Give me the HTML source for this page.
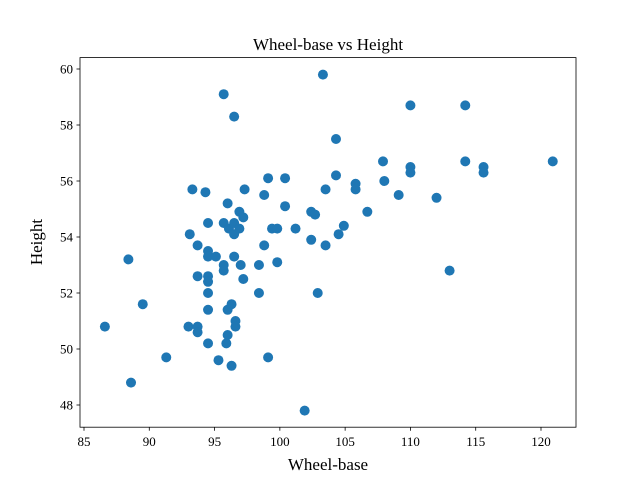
<!DOCTYPE html>
<html><head><meta charset="utf-8"><style>
body{margin:0;background:#fff}
svg text{font-family:"Liberation Serif",serif;fill:#000}
</style></head><body>
<svg id="chart" width="640" height="480" xmlns="http://www.w3.org/2000/svg">
<rect width="640" height="480" fill="#fff"/>
<text x="328" y="50" text-anchor="middle" font-size="17">Wheel-base vs Height</text>
<g id="marks"></g>
<rect x="80" y="57.6" width="496" height="369.6" fill="none" stroke="#000" stroke-width="0.8"/>
<g id="xt"></g>
<g id="yt"></g>
<text x="328" y="470" text-anchor="middle" font-size="17">Wheel-base</text>
<text transform="translate(42,242) rotate(-90)" text-anchor="middle" font-size="17">Height</text>
</svg>
<script>
const wheelBase=[86.6,88.4,88.6,89.5,91.3,93.1,93.3,93.0,93.7,93.7,93.7,93.7,94.3,94.5,94.5,94.5,94.5,94.5,94.5,94.5,94.5,95.1,95.3,95.7,95.7,95.7,95.7,96.1,96.0,96.0,96.0,95.9,96.3,96.3,96.5,96.5,96.5,96.5,96.6,96.6,96.9,96.9,97.0,97.3,97.2,97.2,98.4,98.4,98.8,98.8,99.1,99.1,99.4,99.8,99.8,100.4,100.4,101.2,101.9,102.4,102.7,102.4,102.9,103.3,103.5,103.5,104.3,104.3,104.5,104.9,105.8,105.8,106.7,107.9,108.0,109.1,110.0,110.0,110.0,112.0,113.0,114.2,114.2,115.6,115.6,120.9];
const height=[50.8,53.2,48.8,51.6,49.7,54.1,55.7,50.8,50.8,50.6,53.7,52.6,55.6,54.5,53.5,53.3,52.6,52.4,52.0,51.4,50.2,53.3,49.6,59.1,54.5,53.0,52.8,54.3,55.2,51.4,50.5,50.2,51.6,49.4,58.3,54.5,54.1,53.3,51.0,50.8,54.9,54.3,53.0,55.7,54.7,52.5,53.0,52.0,53.7,55.5,56.1,49.7,54.3,53.1,54.3,56.1,55.1,54.3,47.8,54.9,54.8,53.9,52.0,59.8,55.7,53.7,57.5,56.2,54.1,54.4,55.9,55.7,54.9,56.7,56.0,55.5,58.7,56.5,56.3,55.4,52.8,58.7,56.7,56.5,56.3,56.7];
const xTicks=[85,90,95,100,105,110,115,120];
const yTicks=[48,50,52,54,56,58,60];
const X=v=>84+(v-85)*13.057, Y=v=>405-(v-48)*28;
const NS="http://www.w3.org/2000/svg";
const m=document.getElementById('marks');
wheelBase.forEach((w,i)=>{const c=document.createElementNS(NS,'circle');
c.setAttribute('cx',X(w));c.setAttribute('cy',Y(height[i]));c.setAttribute('r',5);c.setAttribute('fill','#1f77b4');


m.appendChild(c);});
const xt=document.getElementById('xt');
xTicks.forEach(t=>{const l=document.createElementNS(NS,'line');l.setAttribute('x1',X(t));l.setAttribute('x2',X(t));l.setAttribute('y1',427.2);l.setAttribute('y2',430.7);l.setAttribute('stroke','#000');l.setAttribute('stroke-width',0.8);


xt.appendChild(l);
const s=document.createElementNS(NS,'text');s.setAttribute('x',X(t));s.setAttribute('y',446);s.setAttribute('text-anchor','middle');s.setAttribute('font-size','13');s.textContent=t;


xt.appendChild(s);});
const yt=document.getElementById('yt');
yTicks.forEach(t=>{const l=document.createElementNS(NS,'line');l.setAttribute('x1',76.5);l.setAttribute('x2',80);l.setAttribute('y1',Y(t));l.setAttribute('y2',Y(t));l.setAttribute('stroke','#000');l.setAttribute('stroke-width',0.8);


yt.appendChild(l);
const s=document.createElementNS(NS,'text');s.setAttribute('x',73);s.setAttribute('y',Y(t)+4.5);s.setAttribute('text-anchor','end');s.setAttribute('font-size','13');s.textContent=t;


yt.appendChild(s);});
</script>
</body></html>
